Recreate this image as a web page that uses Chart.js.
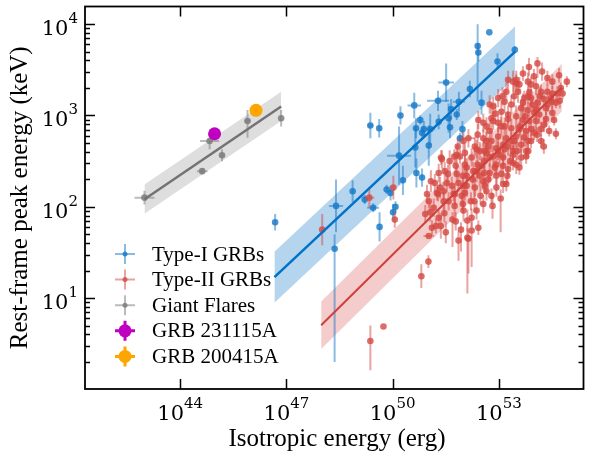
<!DOCTYPE html>
<html>
<head>
<meta charset="utf-8">
<script src="https://cdn.jsdelivr.net/npm/chart.js@4.4.1/dist/chart.umd.min.js"></script>
<style>
  html, body { margin: 0; padding: 0; background: #fff; }
  #c { display: block; }
</style>
</head>
<body>
<canvas id="c" width="590" height="462"></canvas>
<script>
// all values, in log10 units
// rows: [log E_iso, log Ep, dlogE, dlogEp (low), dlogEp (high)]
const xTickExp = [44, 47, 50, 53];
const yTickExp = [1, 2, 3, 4];
const xRange = [41.31, 55.39];
const yRange = [0.005, 4.193];

const giantFlares = [
  [42.99, 2.10, 0.28, 0.076, 0.076],
  [44.62, 2.39, 0.15, 0.035, 0.035],
  [44.83, 2.72, 0.27, 0.09, 0.09],
  [45.18, 2.565, 0.06, 0.065, 0.065],
  [45.90, 2.94, 0.08, 0.185, 0.12],
  [46.85, 2.97, 0.03, 0.09, 0.09],
];

const typeI = [
  [46.68, 1.83, 0, 0.09, 0.09], [48.40, 2.01, 0.20, 0.29, 0.29], [48.36, 1.54, 0, 1.24, 0.16],
  [48.87, 2.17, 0, 0.12, 0.12], [49.21, 2.08, 0, 0.05, 0.05], [49.45, 1.99, 0.17, 0.05, 0.05],
  [49.63, 1.78, 0, 0.16, 0.16], [49.83, 2.19, 0, 0.05, 0.05], [49.94, 2.15, 0, 0.08, 0.08],
  [50.01, 1.94, 0, 0.09, 0.09], [50.08, 2.00, 0, 0.06, 0.06], [50.29, 2.29, 0, 0.16, 0.16],
  [50.18, 2.56, 0.34, 0.32, 0.32], [50.67, 2.37, 0, 0.16, 0.16], [50.83, 2.32, 0, 0.10, 0.10],
  [50.64, 2.65, 0, 0.22, 0.22], [51.02, 2.67, 0, 0.22, 0.22], [49.37, 2.89, 0.08, 0.14, 0.14],
  [49.62, 2.86, 0, 0.10, 0.10], [50.22, 3.00, 0, 0.10, 0.10], [50.61, 3.11, 0.19, 0.14, 0.14],
  [50.78, 2.95, 0, 0.05, 0.05], [50.66, 2.86, 0, 0.11, 0.11], [50.83, 2.81, 0, 0.06, 0.06],
  [50.88, 2.85, 0, 0.09, 0.09], [51.06, 2.85, 0.14, 0.17, 0.17], [51.28, 3.16, 0.31, 0.11, 0.11],
  [51.51, 3.36, 0.22, 0.21, 0.21], [51.87, 3.15, 0.17, 0.11, 0.11], [52.51, 3.14, 0, 0.13, 0.13],
  [51.65, 3.07, 0, 0.11, 0.11], [51.81, 3.01, 0, 0.06, 0.06], [51.58, 2.97, 0, 0.16, 0.16],
  [51.62, 2.87, 0, 0.12, 0.12], [51.97, 2.85, 0, 0.09, 0.09], [51.90, 2.75, 0, 0.06, 0.06],
  [52.18, 3.29, 0, 0.09, 0.09], [52.40, 3.76, 0, 0.61, 0.24], [52.42, 3.69, 0, 0.10, 0.10],
  [52.73, 3.91, 0, 0, 0], [52.96, 3.59, 0, 0.09, 0.09], [53.45, 3.72, 0, 0.04, 0.04],
  [51.30, 2.93, 0, 0.08, 0.08],
];

const typeII = [
  [48.01, 1.75, 0, 0.17, 0.17], [49.34, 2.10, 0.14, 0.11, 0.11], [50.02, 2.21, 0, 0.13, 0.13],
  [50.06, 1.86, 0, 0.09, 0.09], [49.37, 0.53, 0, 0.32, 0.17], [49.74, 0.69, 0, 0, 0],
  [50.81, 1.24, 0, 0.13, 0.13], [51.01, 1.40, 0, 0.07, 0.07], [51.02, 1.68, 0.15, 0, 0],
  [52.11, 1.66, 0, 0.61, 0.11],
  [50.97, 2.14, 0, 0.10, 0.10], [51.02, 2.06, 0, 0.08, 0.08], [51.28, 2.14, 0, 0.08, 0.08],
  [51.06, 1.94, 0, 0.10, 0.10], [51.22, 1.79, 0, 0.08, 0.08], [51.46, 1.93, 0, 0.10, 0.10],
  [51.56, 2.36, 0, 0.10, 0.10], [51.74, 2.55, 0, 0.08, 0.08], [51.86, 2.26, 0, 0.10, 0.10],
  [51.76, 2.14, 0, 0.12, 0.12], [51.69, 1.86, 0, 0.30, 0.08], [51.78, 1.84, 0, 0.10, 0.10],
  [51.93, 1.75, 0, 0.24, 0.08], [51.98, 2.03, 0, 0.10, 0.10], [52.04, 2.15, 0, 0.08, 0.08],
  [52.11, 1.85, 0, 0.12, 0.12], [52.14, 1.65, 0, 0.38, 0.10], [52.23, 1.88, 0, 0.10, 0.10],
  [52.23, 1.74, 0, 0.40, 0.10], [52.42, 1.77, 0, 0.08, 0.08], [52.37, 1.96, 0, 0.10, 0.10],
  [52.21, 2.06, 0, 0.10, 0.10], [52.32, 2.21, 0, 0.10, 0.10], [52.60, 2.23, 0, 0.08, 0.08],
  [52.56, 2.03, 0, 0.10, 0.10], [52.79, 2.12, 0, 0.08, 0.08], [52.70, 2.30, 0, 0.10, 0.10],
  [52.46, 2.34, 0, 0.12, 0.12], [52.04, 2.46, 0, 0.10, 0.10], [51.90, 2.55, 0, 0.08, 0.08],
  [52.23, 2.54, 0, 0.10, 0.10], [52.51, 2.45, 0, 0.10, 0.10], [52.88, 2.43, 0, 0.08, 0.08],
  [53.07, 2.36, 0, 0.10, 0.10], [53.26, 2.41, 0, 0.08, 0.08], [53.05, 2.09, 0, 0.37, 0.10],
  [52.93, 2.21, 0, 0.10, 0.10], [53.21, 2.25, 0, 0.08, 0.08], [53.12, 2.54, 0, 0.10, 0.10],
  [53.40, 2.48, 0, 0.08, 0.08], [53.58, 2.43, 0, 0.08, 0.08], [53.63, 2.54, 0, 0.10, 0.10],
  [53.83, 2.61, 0, 0.08, 0.08], [53.40, 2.57, 0, 0.10, 0.10], [53.24, 2.34, 0, 0.10, 0.10],
  [51.25, 2.15, 0, 0.08, 0.08], [51.81, 2.36, 0, 0.10, 0.10], [51.34, 2.21, 0, 0.12, 0.12],
  [52.00, 2.23, 0, 0.10, 0.10], [51.72, 2.14, 0, 0.08, 0.08], [53.12, 2.25, 0, 0.10, 0.10],
  [52.56, 2.28, 0, 0.10, 0.10], [52.37, 2.39, 0, 0.12, 0.12], [52.74, 2.37, 0, 0.10, 0.10],
  [52.93, 2.46, 0, 0.10, 0.10], [53.49, 2.46, 0, 0.10, 0.10], [53.02, 2.57, 0, 0.10, 0.10],
  [52.65, 2.59, 0, 0.10, 0.10], [51.81, 2.57, 0, 0.10, 0.10], [51.39, 2.52, 0, 0.10, 0.10],
  [51.30, 2.37, 0, 0.10, 0.10],
  [54.09, 3.57, 0, 0.16, 0.07], [54.70, 3.44, 0, 0.08, 0.08], [54.37, 3.41, 0, 0.08, 0.08],
  [54.51, 3.37, 0, 0.08, 0.08], [54.75, 3.30, 0, 0.06, 0.06], [54.65, 3.24, 0, 0.08, 0.08],
  [54.61, 3.14, 0, 0.06, 0.06], [54.51, 3.03, 0, 0.08, 0.08], [54.56, 2.95, 0, 0.06, 0.06],
  [54.42, 2.83, 0, 0.06, 0.06], [54.28, 2.90, 0, 0.08, 0.08], [54.14, 3.01, 0, 0.10, 0.10],
  [54.09, 3.14, 0, 0.10, 0.10], [54.33, 3.08, 0, 0.08, 0.08], [54.05, 3.32, 0, 0.10, 0.10],
  [53.91, 3.34, 0, 0.08, 0.08], [53.82, 3.37, 0, 0.10, 0.10], [54.19, 3.26, 0, 0.08, 0.08],
  [54.37, 3.26, 0, 0.08, 0.08], [54.47, 3.19, 0, 0.06, 0.06], [53.91, 3.19, 0, 0.10, 0.10],
  [53.72, 3.19, 0, 0.08, 0.08], [53.54, 3.26, 0, 0.12, 0.12], [53.49, 3.35, 0, 0.10, 0.10],
  [53.58, 3.34, 0, 0.08, 0.08], [53.21, 3.26, 0, 0.10, 0.10], [53.16, 3.15, 0, 0.12, 0.12],
  [53.35, 3.12, 0, 0.10, 0.10], [53.63, 3.08, 0, 0.10, 0.10], [53.82, 3.06, 0, 0.08, 0.08],
  [54.00, 3.03, 0, 0.08, 0.08], [53.86, 2.94, 0, 0.10, 0.10], [53.68, 2.95, 0, 0.10, 0.10],
  [53.49, 2.99, 0, 0.12, 0.12], [53.26, 3.01, 0, 0.10, 0.10], [53.07, 3.04, 0, 0.12, 0.12],
  [52.84, 3.10, 0, 0.10, 0.10], [52.79, 2.97, 0, 0.12, 0.12], [52.98, 2.92, 0, 0.10, 0.10],
  [53.16, 2.88, 0, 0.10, 0.10], [53.35, 2.86, 0, 0.10, 0.10], [53.58, 2.85, 0, 0.08, 0.08],
  [53.77, 2.83, 0, 0.10, 0.10], [54.00, 2.81, 0, 0.08, 0.08], [54.19, 2.85, 0, 0.08, 0.08],
  [53.82, 2.72, 0, 0.10, 0.10], [53.63, 2.68, 0, 0.10, 0.10], [53.44, 2.72, 0, 0.10, 0.10],
  [53.21, 2.75, 0, 0.12, 0.12], [52.98, 2.77, 0, 0.10, 0.10], [52.74, 2.83, 0, 0.12, 0.12],
  [52.56, 2.92, 0, 0.10, 0.10], [52.56, 2.75, 0, 0.10, 0.10], [52.70, 2.66, 0, 0.10, 0.10],
  [52.93, 2.64, 0, 0.10, 0.10], [53.16, 2.63, 0, 0.10, 0.10], [53.40, 2.61, 0, 0.10, 0.10],
  [52.14, 2.75, 0.20, 0.10, 0.10], [52.32, 2.66, 0, 0.10, 0.10], [52.04, 2.59, 0, 0.10, 0.10],
  [52.98, 3.19, 0, 0.10, 0.10], [52.74, 3.12, 0, 0.10, 0.10], [54.51, 3.24, 0, 0.08, 0.08],
  [54.72, 3.16, 0, 0.08, 0.08], [53.49, 3.39, 0, 0.10, 0.10], [53.86, 3.25, 0, 0.08, 0.08],
  [53.91, 2.72, 0, 0.08, 0.08], [53.77, 2.61, 0, 0.08, 0.08], [50.92, 1.92, 0, 0.10, 0.10],
  [51.16, 1.99, 0, 0.10, 0.10], [51.30, 1.88, 0, 0.08, 0.08], [51.11, 1.77, 0, 0.08, 0.08],
  [51.44, 2.06, 0, 0.10, 0.10], [51.53, 2.26, 0, 0.10, 0.10], [52.09, 2.43, 0, 0.10, 0.10],
  [52.28, 2.39, 0, 0.10, 0.10], [52.46, 2.61, 0, 0.10, 0.10], [52.74, 2.54, 0, 0.10, 0.10],
  [52.65, 2.72, 0, 0.10, 0.10], [53.12, 2.68, 0, 0.10, 0.10], [52.84, 2.94, 0, 0.10, 0.10],
  [52.42, 2.95, 0, 0.10, 0.10], [52.00, 2.72, 0, 0.10, 0.10], [51.37, 2.54, 0.10, 0.08, 0.08],
  [53.77, 2.55, 0, 0.08, 0.08],
  [53.26, 3.39, 0, 0.10, 0.10], [53.40, 3.37, 0, 0.12, 0.12], [53.68, 3.46, 0, 0.08, 0.08],
  [53.85, 3.53, 0, 0.10, 0.10], [53.99, 3.43, 0, 0.08, 0.08], [54.22, 3.48, 0, 0.10, 0.10],
  [54.27, 3.18, 0, 0.08, 0.08], [54.38, 3.12, 0, 0.08, 0.08], [54.05, 2.94, 0, 0.10, 0.10],
  [54.19, 2.72, 0, 0.08, 0.08], [54.33, 2.96, 0, 0.08, 0.08], [53.49, 2.77, 0, 0.12, 0.12],
  [53.26, 2.66, 0, 0.10, 0.10], [52.84, 2.55, 0, 0.12, 0.12], [52.59, 2.50, 0, 0.10, 0.10],
  [52.40, 2.46, 0, 0.14, 0.14], [52.26, 2.30, 0, 0.10, 0.10], [52.09, 2.23, 0, 0.12, 0.12],
  [51.95, 2.12, 0, 0.10, 0.10], [51.75, 2.01, 0, 0.12, 0.12], [51.58, 2.06, 0, 0.10, 0.10],
  [51.44, 2.17, 0, 0.10, 0.10], [51.36, 1.79, 0, 0.14, 0.14], [51.50, 1.72, 0, 0.12, 0.12],
  [51.86, 1.63, 0, 0.22, 0.10], [52.00, 1.96, 0, 0.12, 0.12], [52.48, 2.12, 0, 0.10, 0.10],
  [52.65, 2.17, 0, 0.10, 0.10], [52.82, 2.01, 0, 0.14, 0.14], [52.93, 2.34, 0, 0.10, 0.10],
  [53.12, 2.45, 0, 0.10, 0.10], [53.32, 2.50, 0, 0.08, 0.08], [53.52, 2.61, 0, 0.10, 0.10],
  [53.71, 2.76, 0, 0.10, 0.10], [53.91, 2.85, 0, 0.08, 0.08], [54.08, 2.79, 0, 0.08, 0.08],
  [53.68, 3.14, 0, 0.10, 0.10], [53.43, 3.21, 0, 0.12, 0.12], [53.10, 3.21, 0, 0.10, 0.10],
  [52.90, 3.02, 0, 0.12, 0.12], [52.65, 2.88, 0, 0.10, 0.10], [52.40, 2.79, 0, 0.12, 0.12],
  [51.84, 2.66, 0, 0.10, 0.10], [51.61, 2.50, 0, 0.12, 0.12], [51.47, 2.39, 0, 0.10, 0.10],
  [51.19, 2.26, 0, 0.10, 0.10], [51.08, 2.28, 0, 0.12, 0.12], [51.78, 2.45, 0, 0.10, 0.10],
  [51.98, 2.34, 0, 0.10, 0.10], [52.59, 2.37, 0, 0.12, 0.12], [52.37, 2.63, 0, 0.10, 0.10],
  [53.07, 2.88, 0, 0.10, 0.10], [53.26, 2.96, 0, 0.08, 0.08], [53.74, 2.99, 0, 0.10, 0.10],
  [53.94, 3.12, 0, 0.08, 0.08], [54.16, 3.21, 0, 0.10, 0.10], [54.50, 3.15, 0, 0.08, 0.08],
  [54.80, 3.24, 0, 0.06, 0.06], [54.92, 3.37, 0, 0.06, 0.06], [54.61, 2.80, 0, 0.06, 0.06],
  [54.27, 2.66, 0, 0.08, 0.08], [52.79, 2.72, 0, 0.12, 0.12], [52.98, 2.61, 0, 0.10, 0.10],
  [53.35, 2.72, 0, 0.10, 0.10], [53.60, 2.88, 0, 0.10, 0.10], [53.82, 3.21, 0, 0.08, 0.08],
  [54.05, 3.07, 0, 0.10, 0.10], [52.59, 2.61, 0, 0.12, 0.12], [52.09, 2.34, 0, 0.14, 0.14],
  [52.31, 2.06, 0, 0.12, 0.12], [51.67, 2.23, 0, 0.10, 0.10],
];

const grb231115A = [44.97, 2.80];
const grb200415A = [46.14, 3.056];

// best-fit lines (end points) and band half-widths, log10 units
const fitGF = [[42.99, 2.083], [46.85, 3.099]];
const fitTypeI = [[46.66, 1.229], [53.46, 3.698]];
const fitTypeII = [[47.98, 0.703], [54.78, 3.306]];
const bandGF = 0.16;
const bandTypeI = 0.28;
const bandTypeII = 0.26;

const SERIF = '"Liberation Serif", "Times New Roman", serif';
const MATH = '"DejaVu Serif", serif';
const BLUE = '20,120,200', RED = '212,72,66', GRAY = '120,120,120';

const pts = rows => rows.map(r => ({ x: 10 ** r[0], y: 10 ** r[1] }));
const shift = (line, d) => line.map(p => ({ x: 10 ** p[0], y: 10 ** (p[1] + d) }));

function bandSets(line, w, rgb, alpha) {
  return [
    { data: shift(line, w), showLine: true, fill: '+1', backgroundColor: `rgba(${rgb},${alpha})`,
      borderWidth: 0, pointRadius: 0, order: 10 },
    { data: shift(line, -w), showLine: true, fill: false, borderWidth: 0, pointRadius: 0, order: 10 },
  ];
}

function lineSet(line, color, width) {
  return { data: shift(line, 0), showLine: true, borderColor: color, borderWidth: width,
           pointRadius: 0, fill: false, order: 2 };
}

function pointSet(rows, rgb) {
  return { data: pts(rows), errors: rows, rgb, pointRadius: 3.3, borderWidth: 0,
           backgroundColor: `rgba(${rgb},0.8)`, order: 5 };
}

// error bars drawn just before their point set
const errorBars = {
  id: 'errorBars',
  beforeDatasetDraw(chart, args) {
    const ds = chart.data.datasets[args.index];
    if (!ds.errors) return;
    const { ctx, chartArea: a } = chart;
    const xs = chart.scales.x, ys = chart.scales.y;
    ctx.save();
    ctx.beginPath();
    ctx.rect(a.left, a.top, a.right - a.left, a.bottom - a.top);
    ctx.clip();
    ctx.strokeStyle = `rgba(${ds.rgb},0.5)`;
    ctx.lineWidth = 2;
    ds.errors.forEach(r => {
      const px = xs.getPixelForValue(10 ** r[0]);
      const py = ys.getPixelForValue(10 ** r[1]);
      ctx.beginPath();
      if (r[2] > 0) {
        ctx.moveTo(xs.getPixelForValue(10 ** (r[0] - r[2])), py);
        ctx.lineTo(xs.getPixelForValue(10 ** (r[0] + r[2])), py);
      }
      if (r[3] > 0 || r[4] > 0) {
        ctx.moveTo(px, ys.getPixelForValue(10 ** (r[1] - r[3])));
        ctx.lineTo(px, ys.getPixelForValue(10 ** (r[1] + r[4])));
      }
      ctx.stroke();
    });
    ctx.restore();
  }
};

function powLabel(ctx, exp, x, yBase, align) {
  ctx.font = `21px ${MATH}`;
  const w1 = ctx.measureText('10').width;
  ctx.font = `15px ${MATH}`;
  const w2 = ctx.measureText(String(exp)).width;
  const x0 = align === 'center' ? x - (w1 + w2) / 2 : x - (w1 + w2);
  ctx.textAlign = 'left';
  ctx.textBaseline = 'alphabetic';
  ctx.font = `21px ${MATH}`;
  ctx.fillText('10', x0, yBase);
  ctx.font = `15px ${MATH}`;
  ctx.fillText(String(exp), x0 + w1, yBase - 12);
}

function legendMarker(ctx, x, y, rgb, big) {
  ctx.save();
  if (big) {
    ctx.strokeStyle = `rgb(${rgb})`;
    ctx.lineWidth = 3;
  } else {
    ctx.strokeStyle = `rgba(${rgb},0.5)`;
    ctx.lineWidth = 2;
  }
  ctx.beginPath();
  ctx.moveTo(x - 10, y); ctx.lineTo(x + 10, y);
  ctx.moveTo(x, y - 10); ctx.lineTo(x, y + 10);
  ctx.stroke();
  ctx.fillStyle = big ? `rgb(${rgb})` : `rgba(${rgb},0.8)`;
  ctx.beginPath();
  ctx.arc(x, y, big ? 6.5 : 2.5, 0, Math.PI * 2);
  ctx.fill();
  ctx.restore();
}

const frame = {
  id: 'frame',
  afterDraw(chart) {
    const { ctx, chartArea: a } = chart;
    const xs = chart.scales.x, ys = chart.scales.y;
    ctx.save();
    ctx.strokeStyle = '#000';
    ctx.fillStyle = '#000';
    ctx.lineWidth = 1.8;
    ctx.strokeRect(a.left, a.top, a.right - a.left, a.bottom - a.top);

    ctx.lineWidth = 1.5;
    ctx.beginPath();
    xTickExp.forEach(e => {
      const px = Math.round(xs.getPixelForValue(10 ** e)) + 0.5;
      ctx.moveTo(px, a.bottom); ctx.lineTo(px, a.bottom - 10);
      ctx.moveTo(px, a.top); ctx.lineTo(px, a.top + 10);
    });
    for (let n = 0; n <= 4; n++) {
      for (let k = 1; k <= 9; k++) {
        const v = k * 10 ** n;
        if (Math.log10(v) < yRange[0] || Math.log10(v) > yRange[1]) continue;
        const py = Math.round(ys.getPixelForValue(v)) + 0.5;
        const len = k === 1 ? 10 : 5;
        ctx.moveTo(a.left, py); ctx.lineTo(a.left + len, py);
        ctx.moveTo(a.right, py); ctx.lineTo(a.right - len, py);
      }
    }
    ctx.stroke();

    xTickExp.forEach(e => powLabel(ctx, e, xs.getPixelForValue(10 ** e), 420, 'center'));
    yTickExp.forEach(e => powLabel(ctx, e, 78, ys.getPixelForValue(10 ** e) + 11, 'right'));

    ctx.font = `25px ${SERIF}`;
    ctx.textAlign = 'center';
    ctx.textBaseline = 'alphabetic';
    ctx.fillText('Isotropic energy (erg)', 337, 446);
    ctx.save();
    ctx.translate(27, (a.top + a.bottom) / 2);
    ctx.rotate(-Math.PI / 2);
    ctx.fillText('Rest-frame peak energy (keV)', 0, 0);
    ctx.restore();

    const entries = [
      ['Type-I GRBs', BLUE, false],
      ['Type-II GRBs', RED, false],
      ['Giant Flares', GRAY, false],
      ['GRB 231115A', '192,0,192', true],
      ['GRB 200415A', '255,165,0', true],
    ];
    ctx.font = `21px ${SERIF}`;
    ctx.textAlign = 'left';
    ctx.textBaseline = 'middle';
    entries.forEach((en, i) => {
      const y = 254 + i * 25.6;
      legendMarker(ctx, 125, y, en[1], en[2]);
      ctx.fillStyle = '#000';
      ctx.fillText(en[0], 152, y + 1);
    });
    ctx.restore();
  }
};

new Chart(document.getElementById('c'), {
  type: 'scatter',
  data: {
    datasets: [
      ...bandSets(fitGF, bandGF, '160,160,160', 0.35),
      ...bandSets(fitTypeI, bandTypeI, '70,150,215', 0.4),
      ...bandSets(fitTypeII, bandTypeII, '225,110,110', 0.35),
      pointSet(giantFlares, GRAY),
      pointSet(typeII, RED),
      pointSet(typeI, BLUE),
      lineSet(fitGF, 'rgb(115,115,115)', 2.5),
      lineSet(fitTypeI, 'rgb(0,114,200)', 2.5),
      lineSet(fitTypeII, 'rgb(205,65,60)', 2),
      { data: pts([grb231115A]), pointRadius: 6.5, backgroundColor: 'rgb(192,0,192)', borderWidth: 0, order: 1 },
      { data: pts([grb200415A]), pointRadius: 6.5, backgroundColor: 'rgb(255,165,0)', borderWidth: 0, order: 1 },
    ]
  },
  options: {
    responsive: false,
    animation: false,
    devicePixelRatio: 1,
    layout: { padding: { left: 85, top: 4, right: 2, bottom: 73 } },
    plugins: { legend: { display: false }, tooltip: { enabled: false } },
    scales: {
      x: { type: 'logarithmic', display: false, min: 10 ** xRange[0], max: 10 ** xRange[1] },
      y: { type: 'logarithmic', display: false, min: 10 ** yRange[0], max: 10 ** yRange[1] },
    }
  },
  plugins: [errorBars, frame]
});
</script>
</body>
</html>
